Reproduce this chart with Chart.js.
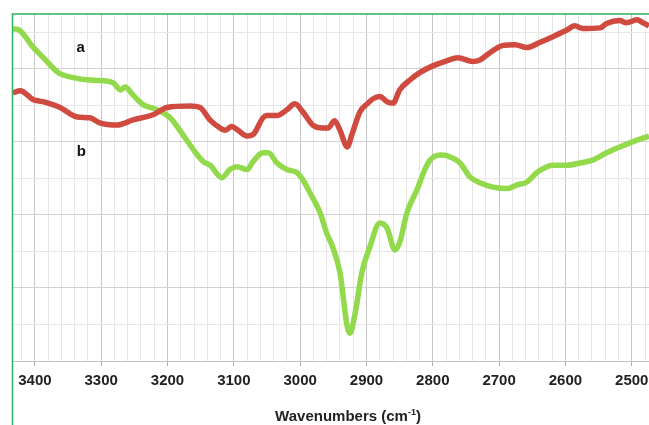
<!DOCTYPE html>
<html>
<head>
<meta charset="utf-8">
<script src="https://cdn.jsdelivr.net/npm/chart.js@4.4.1/dist/chart.umd.min.js"></script>
<style>
  html, body { margin: 0; padding: 0; background: #fff; }
  #wrap { width: 649px; height: 425px; position: relative; }
</style>
</head>
<body>
<div id="wrap"><canvas id="irChart" width="649" height="425"></canvas></div>
<script>
// 曲線 a（赤）
const wavenumbersA = [3433, 3422, 3403, 3388, 3362, 3336, 3317, 3302, 3276, 3252, 3222, 3201, 3166, 3151, 3136, 3121, 3113, 3103, 3094, 3080, 3071, 3056, 3050, 3035, 3020, 3008, 2996, 2981, 2966, 2958, 2948, 2940, 2929, 2922, 2910, 2899, 2890, 2880, 2869, 2860, 2850, 2834, 2819, 2800, 2779, 2762, 2740, 2729, 2714, 2694, 2676, 2658, 2639, 2619, 2598, 2586, 2574, 2548, 2538, 2518, 2508, 2492, 2483, 2474];
const valuesA = [3.67, 3.70, 3.58, 3.55, 3.47, 3.34, 3.33, 3.26, 3.23, 3.30, 3.37, 3.47, 3.49, 3.47, 3.30, 3.19, 3.16, 3.21, 3.16, 3.08, 3.10, 3.33, 3.36, 3.36, 3.44, 3.52, 3.41, 3.23, 3.19, 3.19, 3.29, 3.16, 2.93, 3.10, 3.41, 3.52, 3.59, 3.62, 3.55, 3.53, 3.71, 3.85, 3.95, 4.04, 4.11, 4.15, 4.10, 4.12, 4.22, 4.32, 4.33, 4.29, 4.36, 4.44, 4.53, 4.59, 4.55, 4.56, 4.62, 4.66, 4.63, 4.67, 4.63, 4.59];

// 曲線 b（緑）
const wavenumbersB = [3433, 3422, 3403, 3388, 3365, 3342, 3321, 3302, 3282, 3271, 3264, 3252, 3237, 3216, 3196, 3177, 3155, 3146, 3136, 3118, 3106, 3095, 3080, 3071, 3056, 3048, 3035, 3020, 3005, 2996, 2985, 2970, 2960, 2951, 2940, 2929, 2925, 2917, 2907, 2895, 2880, 2869, 2857, 2850, 2839, 2824, 2812, 2804, 2789, 2779, 2759, 2744, 2729, 2709, 2687, 2673, 2658, 2643, 2619, 2598, 2578, 2559, 2538, 2518, 2499, 2474];
const valuesB = [4.55, 4.52, 4.30, 4.16, 3.95, 3.88, 3.85, 3.84, 3.81, 3.71, 3.75, 3.64, 3.51, 3.44, 3.33, 3.10, 2.82, 2.73, 2.68, 2.51, 2.62, 2.66, 2.62, 2.73, 2.85, 2.85, 2.71, 2.62, 2.58, 2.48, 2.30, 2.03, 1.75, 1.56, 1.21, 0.47, 0.38, 0.66, 1.21, 1.56, 1.89, 1.82, 1.52, 1.62, 2.03, 2.34, 2.62, 2.75, 2.82, 2.81, 2.71, 2.52, 2.44, 2.38, 2.36, 2.41, 2.45, 2.58, 2.68, 2.68, 2.71, 2.75, 2.85, 2.93, 3.00, 3.08];

// 目盛りラベル
const tickLabels = [3400, 3300, 3200, 3100, 3000, 2900, 2800, 2700, 2600, 2500];

const toPoints = (xs, ys) => xs.map((x, i) => ({ x: x, y: ys[i] }));

const FONT = '"Liberation Sans", Arial, sans-serif';

// 枠線・ラベル・軸タイトル
const decorPlugin = {
  id: 'decor',
  afterDraw(chart) {
    const c = chart.ctx;
    const xs = chart.scales.x, ys = chart.scales.y;
    c.save();
    // 緑の枠
    c.strokeStyle = '#2db35f';
    c.lineWidth = 1.5;
    c.beginPath();
    c.moveTo(12.5, 425);
    c.lineTo(12.5, 14);
    c.lineTo(649, 14);
    c.stroke();

    c.fillStyle = '#111';
    c.font = 'bold 15px ' + FONT;
    c.textAlign = 'center';
    c.textBaseline = 'middle';
    c.fillText('a', xs.getPixelForValue(3331), ys.getPixelForValue(4.29));
    c.fillText('b', xs.getPixelForValue(3330), ys.getPixelForValue(2.86));

    // 軸タイトル（上付き -1）
    c.fillStyle = '#222';
    c.textBaseline = 'alphabetic';
    c.textAlign = 'left';
    const main = 'Wavenumbers (cm';
    const sup = '-1';
    const close = ')';
    c.font = 'bold 15px ' + FONT;
    const w1 = c.measureText(main).width;
    const w3 = c.measureText(close).width;
    c.font = 'bold 9px ' + FONT;
    const w2 = c.measureText(sup).width;
    const total = w1 + w2 + w3;
    let x0 = 348 - total / 2;
    const base = 421;
    c.font = 'bold 15px ' + FONT;
    c.fillText(main, x0, base);
    c.font = 'bold 9px ' + FONT;
    c.fillText(sup, x0 + w1, base - 6);
    c.font = 'bold 15px ' + FONT;
    c.fillText(close, x0 + w1 + w2, base);
    c.restore();
  }
};

new Chart(document.getElementById('irChart'), {
  type: 'line',
  data: {
    datasets: [
      {
        label: 'a',
        data: toPoints(wavenumbersA, valuesA),
        borderColor: '#d04a40',
        borderWidth: 5.5,
        pointRadius: 0,
        cubicInterpolationMode: 'monotone',
        fill: false
      },
      {
        label: 'b',
        data: toPoints(wavenumbersB, valuesB),
        borderColor: '#92d94c',
        borderWidth: 5.5,
        pointRadius: 0,
        cubicInterpolationMode: 'monotone',
        fill: false
      }
    ]
  },
  options: {
    responsive: false,
    animation: false,
    layout: { padding: { left: 13, top: 14, right: 0, bottom: 0 } },
    plugins: {
      legend: { display: false },
      tooltip: { enabled: false }
    },
    scales: {
      x: {
        type: 'linear',
        reverse: true,
        min: 2474,
        max: 3433,
        afterFit: (s) => { s.height = 64; s.paddingLeft = 0; s.paddingRight = 0; },
        border: { color: '#c4c4c4' },
        grid: {
          color: (ctx) => (ctx.tick && ctx.tick.value % 100 === 0) ? '#c6c6c6' : '#e6e6e6',
          tickColor: (ctx) => (ctx.tick && ctx.tick.value % 100 === 0) ? '#b0b0b0' : 'rgba(0,0,0,0)',
          tickLength: 5
        },
        ticks: {
          stepSize: 20,
          includeBounds: false,
          autoSkip: false,
          maxRotation: 0,
          padding: 6,
          color: '#222',
          font: { family: FONT, size: 15, weight: 'bold' },
          callback: (v) => tickLabels.includes(v) ? String(v) : ''
        }
      },
      y: {
        min: 0,
        max: 4.75,
        afterFit: (s) => { s.width = 0; s.paddingTop = 0; s.paddingBottom = 0; },
        border: { display: false },
        grid: {
          color: (ctx) => (ctx.tick && Number.isInteger(ctx.tick.value)) ? '#d2d2d2' : '#e8e8e8',
          drawTicks: false
        },
        ticks: {
          display: false,
          stepSize: 0.5,
          includeBounds: false
        }
      }
    }
  },
  plugins: [decorPlugin]
});
</script>
</body>
</html>
